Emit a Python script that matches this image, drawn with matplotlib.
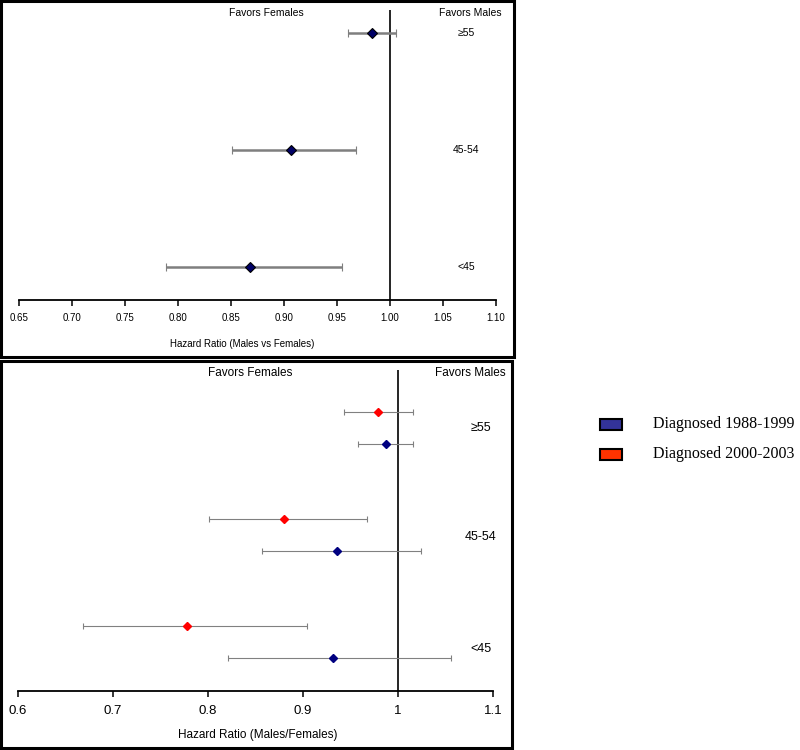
import matplotlib
matplotlib.use("Agg")
import matplotlib.pyplot as plt
from matplotlib.patches import Rectangle

plt.rcParams['font.family'] = ['Liberation Sans', 'DejaVu Sans']

# --- data: top panel (all years) ---
age_groups = ["\u226555", "45-54", "<45"]
top_hr = [0.983, 0.907, 0.868]
top_lo = [0.960, 0.851, 0.789]
top_hi = [1.006, 0.968, 0.955]
top_ticks = [0.65, 0.70, 0.75, 0.80, 0.85, 0.90, 0.95, 1.00, 1.05, 1.10]

# --- data: bottom panel (by diagnosis period) ---
early_hr = [0.987, 0.936, 0.931]
early_lo = [0.958, 0.857, 0.821]
early_hi = [1.016, 1.024, 1.056]
late_hr = [0.979, 0.880, 0.778]
late_lo = [0.943, 0.801, 0.669]
late_hi = [1.016, 0.967, 0.904]
bottom_ticks = [0.6, 0.7, 0.8, 0.9, 1.0, 1.1]
bottom_ticklabels = ["0.6", "0.7", "0.8", "0.9", "1", "1.1"]
period_labels = ["Diagnosed 1988-1999", "Diagnosed 2000-2003"]

group_pos = [3, 2, 1]

fig = plt.figure(figsize=(8, 7.5), dpi=100)


def style_axis(ax):
    for side in ["left", "top", "right"]:
        ax.spines[side].set_visible(False)
    ax.spines["bottom"].set_linewidth(1.3)
    ax.set_yticks([])
    ax.tick_params(axis="x", direction="out", length=4, width=1.1, color="black")


# ---------------- top panel ----------------
ax1 = fig.add_axes([19 / 800, 0.6, 477 / 800, 290 / 750])
style_axis(ax1)
ax1.set_xlim(0.65, 1.10)
ax1.set_ylim(0.718, 3.197)
ax1.axvline(1.0, color="black", lw=1.2)

xerr = [[h - l for h, l in zip(top_hr, top_lo)], [u - h for h, u in zip(top_hr, top_hi)]]
ax1.errorbar(top_hr, group_pos, xerr=xerr, fmt="D", color="#7f7f7f", ecolor="#7f7f7f",
             elinewidth=1.8, capsize=3, capthick=1.8, markersize=5.5,
             markerfacecolor="#000066", markeredgecolor="black", markeredgewidth=0.8)

ax1.set_xticks(top_ticks)
ax1.set_xticklabels(["%.2f" % t for t in top_ticks])
ax1.tick_params(axis="x", labelsize=7, pad=5.5)
ax1.set_xlabel("Hazard Ratio (Males vs Females)", fontsize=7)
ax1.xaxis.set_label_coords(0.4675, -0.135)

for g, lab in zip(group_pos, age_groups):
    ax1.text(1.072, g, lab, ha="center", va="center", fontsize=7.5)
ax1.text(0.883, 3.17, "Favors Females", ha="center", va="center", fontsize=7.5, clip_on=False)
ax1.text(1.0755, 3.17, "Favors Males", ha="center", va="center", fontsize=7.5, clip_on=False)

# ---------------- bottom panel ----------------
ax2 = fig.add_axes([17.7 / 800, 59 / 750, 475.6 / 800, 321 / 750])
style_axis(ax2)
ax2.set_xlim(0.6, 1.1)
ax2.set_ylim(0.544, 3.545)
ax2.axvline(1.0, color="black", lw=1.2)

y_late = [g + 0.15 for g in group_pos]
y_early = [g - 0.15 for g in group_pos]
ax2.errorbar(late_hr, y_late,
             xerr=[[h - l for h, l in zip(late_hr, late_lo)], [u - h for h, u in zip(late_hr, late_hi)]],
             fmt="D", ecolor="#808080", elinewidth=0.8, capsize=2.5, capthick=0.8,
             markersize=3.8, markerfacecolor="#ff0000", markeredgecolor="#ff0000")
ax2.errorbar(early_hr, y_early,
             xerr=[[h - l for h, l in zip(early_hr, early_lo)], [u - h for h, u in zip(early_hr, early_hi)]],
             fmt="D", ecolor="#808080", elinewidth=0.8, capsize=2.5, capthick=0.8,
             markersize=3.8, markerfacecolor="#000080", markeredgecolor="#000080")

ax2.set_xticks(bottom_ticks)
ax2.set_xticklabels(bottom_ticklabels)
ax2.tick_params(axis="x", labelsize=9.5, pad=6)
ax2.set_xlabel("Hazard Ratio (Males/Females)", fontsize=8.5)
ax2.xaxis.set_label_coords(0.505, -0.118)

for y, lab in zip([3.0, 1.98, 0.94], age_groups):
    ax2.text(1.087, y, lab, ha="center", va="center", fontsize=9)
ax2.text(0.844, 3.517, "Favors Females", ha="center", va="center", fontsize=8.5, clip_on=False)
ax2.text(1.0756, 3.517, "Favors Males", ha="center", va="center", fontsize=8.5, clip_on=False)

# ---------------- panel frames ----------------
fig.add_artist(Rectangle((1 / 800, 393 / 750), 513 / 800, 356 / 750, transform=fig.transFigure,
                         fill=False, lw=2.2, ec="black"))
fig.add_artist(Rectangle((1 / 800, 2 / 750), 511 / 800, 387 / 750, transform=fig.transFigure,
                         fill=False, lw=2.2, ec="black"))

# ---------------- legend (drawn by hand, like the original) ----------------
legend_colors = ["#333399", "#ff3300"]
for i, (lab, col) in enumerate(zip(period_labels, legend_colors)):
    yc = 424 + i * 30.5
    fig.add_artist(Rectangle((600 / 800, (750 - yc - 5.5) / 750), 22 / 800, 11 / 750,
                             transform=fig.transFigure, fc=col, ec="black", lw=1.5))
    fig.text(652.7 / 800, (750 - yc) / 750, lab, ha="left", va="center", fontsize=11.5,
             family=["Liberation Serif", "DejaVu Serif"])

fig.savefig("out.png", dpi=100)
